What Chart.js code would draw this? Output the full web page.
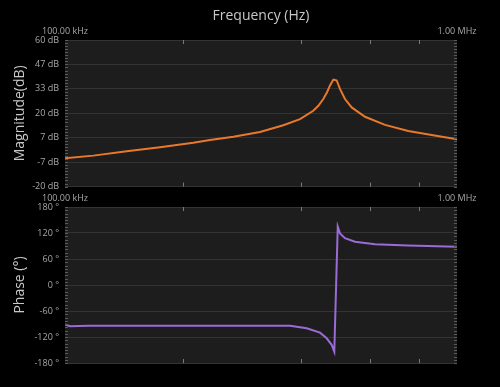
<!DOCTYPE html>
<html>
<head>
<meta charset="utf-8">
<script src="https://cdn.jsdelivr.net/npm/chart.js@4/dist/chart.umd.min.js"></script>
<style>
  html,body{margin:0;padding:0;background:#000;}
  #wrap{position:relative;width:500px;height:387px;background:#000;}
  .box{position:absolute;left:0;width:500px;}
</style>
</head>
<body>
<div id="wrap">
  <div class="box" style="top:0;height:198px;"><canvas id="magC"></canvas></div>
  <div class="box" style="top:190px;height:197px;"><canvas id="phC"></canvas></div>
</div>
<script>
// ── DATA ──────────────────────────────────────────────────────────────────────
const magFreq = [100000,118100,143700,174700,212500,234300,268800,314400,360500,397700,
                 429900,442800,456000,466100,474300,483500,486400,493300,502900,
                 517900,538700,582600,655300,751100,862000,1000000];
const magDb   = [-4.5,-3.1,-0.7,1.5,3.9,5.4,7.2,9.8,13.5,16.8,
                 21.4,24.1,27.8,31.5,35.2,38.3,38.3,37.9,33.3,
                 27.8,23.2,18.1,13.7,10.3,8.1,5.8];

const phFreq  = [100000,103000,114500,221000,375000,413600,447200,465200,479000,486400,
                 496300,502900,517900,549200,617700,749900,1000000];
const phDeg   = [-91,-95,-94,-94,-94,-100,-110,-123,-138,-154,
                 135,119,108,100,94,91,88.5];

const magTicks = [-20,-6.667,6.667,20,33.333,46.667,60];
const phTicks  = [-180,-120,-60,0,60,120,180];
const xTicks   = [100000,1000000];
const xMarks   = [200000,400000,600000,800000];

// ── STYLE ─────────────────────────────────────────────────────────────────────
const FONT = '"Open Sans","Noto Sans",sans-serif';
const TXT = '#a8a8a8', TTL = '#c8c8c8', GRID = '#333333', PLOT = '#1d1d1d';

const fmtHz = v => v>=1e6 ? (v/1e6).toFixed(2)+' MHz' : (v/1e3).toFixed(2)+' kHz';

// plot background + small edge ticks
const plotDeco = {
  id:'plotDeco',
  beforeDraw(ch){
    const a=ch.chartArea, c=ch.ctx;
    c.save(); c.fillStyle=PLOT; c.fillRect(a.left,a.top,a.right-a.left,a.bottom-a.top); c.restore();
  },
  afterDraw(ch){
    const a=ch.chartArea, c=ch.ctx, xs=ch.scales.x;
    c.save(); c.strokeStyle='#5a5a5a'; c.lineWidth=1;
    const n=48;
    for(let i=0;i<=n;i++){
      const y=Math.round(a.top+i*(a.bottom-a.top)/n)+0.5;
      c.beginPath(); c.moveTo(a.left,y); c.lineTo(a.left+3,y); c.stroke();
      c.beginPath(); c.moveTo(a.right-3,y); c.lineTo(a.right,y); c.stroke();
    }
    c.strokeStyle='#7a7a7a';
    xMarks.forEach(f=>{
      const x=Math.round(xs.getPixelForValue(f))+0.5;
      c.beginPath(); c.moveTo(x,a.top); c.lineTo(x,a.top+4); c.stroke();
      c.beginPath(); c.moveTo(x,a.bottom-4); c.lineTo(x,a.bottom); c.stroke();
    });
    c.restore();
  }
};

function mkPlot(id, xs, ys, color, yMin, yMax, yTicks, yFmt, yTitle, opts){
  const el=document.getElementById(id);
  return new Chart(el,{
    type:'line',
    data:{datasets:[{data:xs.map((x,i)=>({x,y:ys[i]})),borderColor:color,borderWidth:2,
      pointRadius:0,tension:0,fill:false}]},
    options:{
      responsive:true,maintainAspectRatio:false,animation:false,
      layout:{padding:{left:0,right:43,top:0,bottom:opts.padB}},
      plugins:{legend:{display:false},tooltip:{enabled:false}},
      scales:{
        x:{type:'logarithmic',position:'top',min:1e5,max:1e6,
          afterBuildTicks:s=>{s.ticks=xTicks.map(v=>({value:v}));},
          afterFit:s=>{s.height=opts.xH;},
          grid:{display:false,drawTicks:false},border:{display:false},
          ticks:{color:TXT,font:{family:FONT,size:9},padding:opts.xPad,maxRotation:0,autoSkip:false,callback:v=>fmtHz(v)},
          title:{display:!!opts.xTitle,text:opts.xTitle||'',color:TTL,font:{family:FONT,size:14},padding:{top:8,bottom:0}}
        },
        y:{min:yMin,max:yMax,
          afterBuildTicks:s=>{s.ticks=yTicks.map(v=>({value:v}));},
          afterFit:s=>{s.width=65;},
          grid:{color:GRID,drawTicks:false},border:{display:false},
          ticks:{color:TXT,font:{family:FONT,size:9},padding:6,callback:yFmt},
          title:{display:true,text:yTitle,color:TTL,font:{family:FONT,size:14},padding:{top:12,bottom:0}}
        }
      }
    },
    plugins:[plotDeco]
  });
}

mkPlot('magC', magFreq, magDb, '#e8792c', -20, 60, magTicks, v=>Math.round(v)+' dB', 'Magnitude(dB)',
  {padB:5, xH:40, xPad:3, xTitle:'Frequency (Hz)'});
mkPlot('phC', phFreq, phDeg, '#9b6bd6', -180, 180, phTicks, v=>v+' °', 'Phase (°)',
  {padB:24, xH:17, xPad:3});
</script>
</body>
</html>
